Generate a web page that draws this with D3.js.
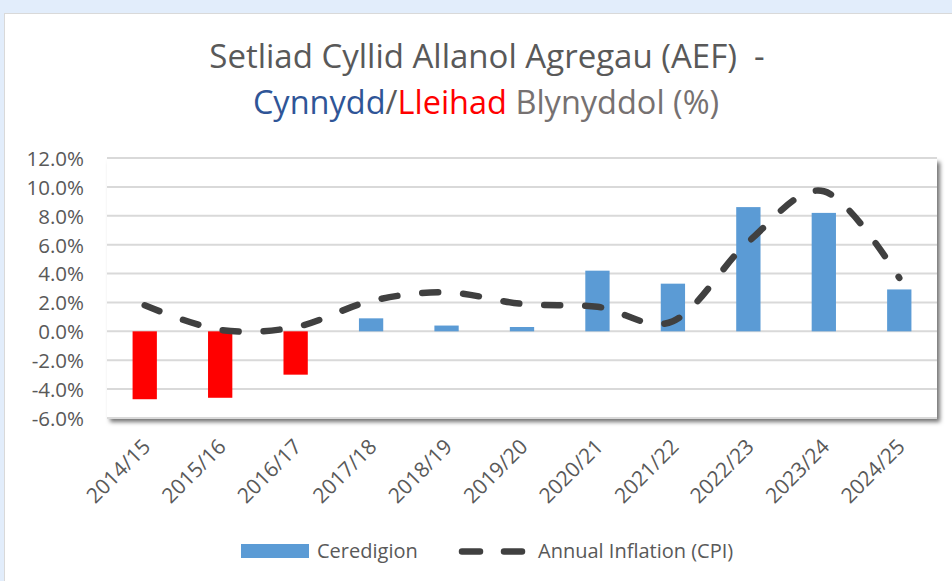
<!DOCTYPE html>
<html lang="en">
<head>
    <meta charset="UTF-8">
    <title>AEF</title>
    <style>
        html,body {
            margin : 0px;
            padding: 0px;
            background: #e2edfb;
        }
        svg { display:block; }
        text { font-family: "Open Sans", sans-serif; }
    </style>
    <script src="https://cdn.jsdelivr.net/npm/d3@7/dist/d3.min.js"></script>
</head>
<body>
<svg></svg>
<script>
    const _W = 952
    const _H = 581

    // data
    const years = ['2014/15','2015/16','2016/17','2017/18','2018/19','2019/20',
                   '2020/21','2021/22','2022/23','2023/24','2024/25']
    const aefChange = [-4.7, -4.6, -3.0, 0.9, 0.4, 0.3, 4.2, 3.3, 8.6, 8.2, 2.9]
    const cpi       = [ 1.8,  0.1,  0.3, 2.1, 2.7, 1.9, 1.7, 0.7, 6.2, 9.7, 3.7]
    const yTicks    = [-6, -4, -2, 0, 2, 4, 6, 8, 10, 12]

    const svg = d3.select('svg')
        .attr('width', _W)
        .attr('height', _H)

    const defs = svg.append('defs')
    const shadow = defs.append('filter').attr('id', 'shadow')
        .attr('x', '-5%').attr('y', '-5%').attr('width', '115%').attr('height', '115%')
    shadow.append('feDropShadow')
        .attr('dx', 3).attr('dy', 4).attr('stdDeviation', 2.2)
        .attr('flood-color', '#000').attr('flood-opacity', 0.55)

    // chart area
    svg.append('rect')
        .attr('x', 4.5).attr('y', 13.5)
        .attr('width', _W + 10).attr('height', _H + 10)
        .attr('fill', '#fff').attr('stroke', '#d9d9d9')

    const x = d3.scaleBand().domain(years).range([107, 937]).padding(0)
    const y = d3.scaleLinear().domain([-6, 12]).range([418, 158])
    const barW = x.bandwidth() * 0.322

    // plot area with shadow
    svg.append('rect')
        .attr('x', 107).attr('y', y(12))
        .attr('width', 830).attr('height', y(-6) - y(12))
        .attr('fill', '#fff')
        .attr('filter', 'url(#shadow)')

    const grid = svg.append('g').attr('class', 'grid')
    grid.selectAll('line').data(yTicks)
        .enter().append('line')
        .attr('x1', 107).attr('x2', 937)
        .attr('y1', (d) => y(d)).attr('y2', (d) => y(d))
        .attr('stroke', '#d9d9d9').attr('stroke-width', 2)

    const yAxis = svg.append('g')
        .attr('transform', 'translate(84,0)')
        .call(d3.axisLeft(y).tickValues(yTicks).tickSize(0).tickPadding(0)
            .tickFormat((d) => d.toFixed(1) + '%'))
    yAxis.select('.domain').remove()
    yAxis.selectAll('text')
        .attr('fill', '#595959')
        .style('font-size', '20.5px')
        .attr('dy', '0.36em')

    const xAxis = svg.append('g')
        .attr('transform', 'translate(0,448)')
        .call(d3.axisBottom(x).tickSize(0).tickPadding(0))
    xAxis.select('.domain').remove()
    xAxis.selectAll('text')
        .attr('fill', '#595959')
        .style('font-size', '21px')
        .style('text-anchor', 'end')
        .attr('y', 0).attr('dy', 0)
        .attr('transform', 'translate(7,0) rotate(-45)')

    // bars
    svg.append('g').attr('class', 'bars')
        .selectAll('rect').data(aefChange)
        .enter().append('rect')
        .attr('x', (d, i) => x(years[i]) + x.bandwidth() / 2 - barW / 2)
        .attr('width', barW)
        .attr('y', (d) => y(Math.max(0, d)))
        .attr('height', (d) => Math.abs(y(d) - y(0)))
        .attr('fill', (d) => d < 0 ? '#ff0000' : '#5b9bd5')

    // inflation line
    const line = d3.line()
        .x((d, i) => x(years[i]) + x.bandwidth() / 2)
        .y((d) => y(d))
        .curve(d3.curveCardinal.tension(0))

    svg.append('path')
        .datum(cpi)
        .attr('d', line)
        .attr('fill', 'none')
        .attr('stroke', '#404040')
        .attr('stroke-width', 6.5)
        .attr('stroke-linecap', 'round')
        .attr('stroke-dasharray', '16,25')

    // title
    const title = svg.append('g').attr('class', 'title')
    title.append('text')
        .attr('x', 487).attr('y', 68)
        .attr('text-anchor', 'middle')
        .attr('fill', '#595959')
        .style('font-size', '33px')
        .style('white-space', 'pre')
        .text('Setliad Cyllid Allanol Agregau (AEF)  -')
    const t2 = title.append('text')
        .attr('x', 486).attr('y', 114)
        .attr('text-anchor', 'middle')
        .style('font-size', '32.5px')
    t2.append('tspan').attr('fill', '#2f5597').text('Cynnydd')
    t2.append('tspan').attr('fill', '#595959').text('/')
    t2.append('tspan').attr('fill', '#ff0000').text('Lleihad')
    t2.append('tspan').attr('fill', '#767171').text(' Blynyddol (%)')

    // legend
    const legend = svg.append('g').attr('class', 'legend')
    legend.append('rect')
        .attr('x', 241).attr('y', 544).attr('width', 68).attr('height', 14)
        .attr('fill', '#5b9bd5')
    legend.append('text')
        .attr('x', 317).attr('y', 558)
        .attr('fill', '#595959').style('font-size', '20px')
        .text('Ceredigion')
    legend.append('line')
        .attr('x1', 462).attr('x2', 524).attr('y1', 551.5).attr('y2', 551.5)
        .attr('stroke', '#404040').attr('stroke-width', 6.5)
        .attr('stroke-linecap', 'round')
        .attr('stroke-dasharray', '18,24')
    legend.append('text')
        .attr('x', 538).attr('y', 558)
        .attr('fill', '#595959').style('font-size', '20px')
        .text('Annual Inflation (CPI)')
</script>
</body>
</html>
